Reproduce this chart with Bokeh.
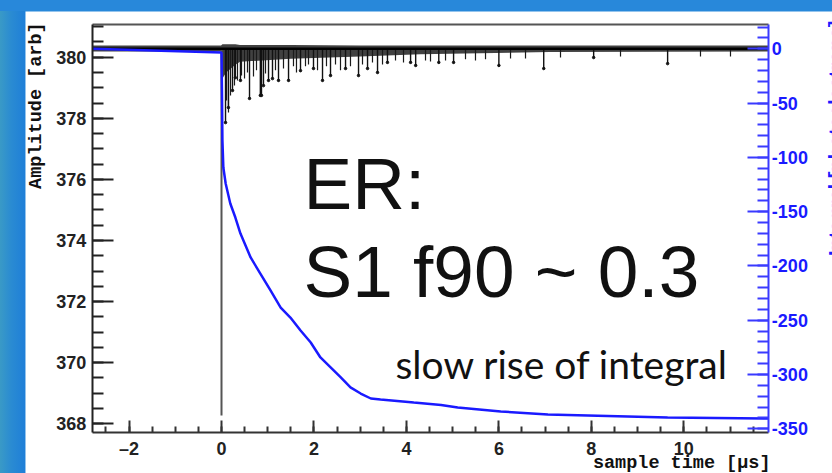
import math
from bokeh.plotting import figure
from bokeh.models import Range1d, LinearAxis, SingleIntervalTicker, FixedTicker, Label, Spacer
from bokeh.layouts import column, row
from bokeh.embed import file_html
from bokeh.resources import INLINE

# ---------------- data ----------------
x_tick_labels = {-2: "\u20132", 0: "0", 2: "2", 4: "4", 6: "6", 8: "8", 10: "10"}
right_tick_labels = {0: "0", -50: "-50", -100: "-100", -150: "-150", -200: "-200",
                     -250: "-250", -300: "-300", -350: "-350"}

# black waveform: baseline and its noise envelope
baseline_level = 380.28
env_t = [-2.797, -0.01, 0.02, 0.10, 0.30, 0.40, 1.50, 3.00, 4.30, 7.10, 11.84]
env_hi = [380.38, 380.38, 380.42, 380.42, 380.42, 380.40, 380.40, 380.38, 380.38, 380.38, 380.38]
env_lo = [380.19, 380.19, 379.30, 379.50, 379.75, 379.85, 379.95, 380.02, 380.10, 380.17, 380.19]

# large single-photoelectron spikes (time [us], minimum amplitude)
spike_t = [0.087, 0.15, 0.238, 0.30, 0.41, 0.606, 0.84, 0.865, 0.908, 1.017, 1.103, 1.233,
           1.450, 1.709, 1.99, 2.185, 2.358, 2.683, 2.964, 3.159, 3.375, 3.59, 4.09, 4.20,
           4.70, 5.02, 6.00, 6.97, 8.05, 9.65]
spike_amp = [377.86, 378.35, 378.91, 379.33, 379.24, 378.65, 378.75, 378.75, 379.07, 379.24,
             379.30, 379.24, 379.24, 379.56, 379.63, 379.24, 379.40, 379.63, 379.40, 379.63,
             379.50, 379.83, 379.83, 379.73, 379.83, 379.83, 379.73, 379.63, 379.99, 379.79]

# smaller spikes in the noisy tail
small_t = [0.108, 0.151, 0.195, 0.281, 0.346, 0.433, 0.498, 0.562, 0.692, 0.757, 0.952,
           1.168, 1.341, 1.557, 1.622, 1.817, 1.882, 2.077, 2.271, 2.466, 2.574, 2.790,
           3.050, 3.266, 3.483, 3.764, 3.937, 4.413, 4.521, 4.846, 5.278, 5.494, 5.711,
           6.252, 6.576, 7.333, 8.631, 10.361, 11.010]
small_amp = [378.58, 378.19, 378.75, 379.07, 379.24, 379.40, 379.30, 379.50, 379.37, 379.57,
             379.47, 379.57, 379.63, 379.70, 379.50, 379.70, 379.76, 379.57, 379.70, 379.76,
             379.57, 379.70, 379.76, 379.83, 379.76, 379.89, 379.83, 379.89, 379.86, 379.89,
             379.93, 379.89, 379.93, 379.96, 379.96, 379.99, 380.02, 380.02, 380.02]

# main prompt pulse
pulse_t = [0.0]
pulse_amp = [368.27]

# integral (blue) curve
int_t = [-2.797, 0.0, 0.01, 0.02, 0.04, 0.09, 0.19, 0.30, 0.41, 0.63, 0.84, 1.06, 1.28, 1.49,
         1.71, 1.93, 2.14, 2.36, 2.58, 2.79, 3.01, 3.23, 3.44, 4.16, 4.75, 5.11, 6.04, 7.06,
         9.65, 11.84]
int_val = [0.0, -3.4, -38.4, -84.5, -109.3, -124.1, -142.5, -155.4, -170.2, -192.2, -207.0,
           -222.6, -238.3, -247.5, -259.5, -270.5, -284.3, -293.5, -302.7, -311.9, -317.5,
           -322.1, -323.0, -325.8, -328.0, -330.4, -334.0, -336.8, -339.6, -340.5]

# ---------------- geometry ----------------
# plot box (data units)
T_MIN, T_MAX = -2.797, 11.84
A_MIN, A_MAX = 367.705, 381.07
I_MIN, I_MAX = -353.7, 22.38
# whole canvas (data units) -- the frame covers the full canvas so that
# annotations outside the plot box are not clipped
CX_MIN, CX_MAX = -4.2397, 13.2165
CA_MIN, CA_MAX = 366.3732, 381.4959
CI_MIN, CI_MAX = -391.18, 34.356

BLUE = "#1a1aff"
AXBLUE = "#3a3aff"
DARK = "#222222"

p = figure(width=807, height=462,
           x_range=Range1d(CX_MIN, CX_MAX), y_range=Range1d(CA_MIN, CA_MAX),
           output_backend="svg", toolbar_location=None,
           x_axis_location=None, y_axis_location=None,
           min_border_left=0, min_border_right=0, min_border_top=0, min_border_bottom=0,
           background_fill_color="white", border_fill_color="white",
           outline_line_color=None)
p.grid.visible = False
p.extra_y_ranges = {"integral": Range1d(CI_MIN, CI_MAX)}


def style_axis(ax, color, tin, tmin, lab_color, standoff):
    ax.axis_line_color = color
    ax.axis_line_width = 2
    ax.major_tick_line_color = color
    ax.minor_tick_line_color = color
    ax.major_tick_line_width = 2
    ax.minor_tick_line_width = 2
    ax.major_tick_in = tin
    ax.major_tick_out = 0
    ax.minor_tick_in = tmin
    ax.minor_tick_out = 0
    ax.major_label_text_font = "Liberation Sans"
    ax.major_label_text_font_style = "bold"
    ax.major_label_text_font_size = "18px"
    ax.major_label_text_color = lab_color
    ax.major_label_standoff = standoff


yl = LinearAxis(ticker=SingleIntervalTicker(interval=2, num_minor_ticks=4),
                fixed_location=T_MIN, bounds=(A_MIN, A_MAX))
style_axis(yl, DARK, 21, 11, DARK, 6)
p.add_layout(yl, "left")

xb = LinearAxis(ticker=SingleIntervalTicker(interval=2, num_minor_ticks=4),
                major_label_overrides=x_tick_labels,
                fixed_location=A_MIN, bounds=(T_MIN, T_MAX))
style_axis(xb, "#333333", 12, 6, DARK, 6)
p.add_layout(xb, "below")

xt = LinearAxis(ticker=FixedTicker(ticks=[]), fixed_location=A_MAX, bounds=(T_MIN, T_MAX))
xt.axis_line_color = "#555555"
xt.axis_line_width = 2
xt.major_label_text_font_size = "0px"
p.add_layout(xt, "above")

yr = LinearAxis(y_range_name="integral",
                ticker=SingleIntervalTicker(interval=50, num_minor_ticks=5),
                major_label_overrides=right_tick_labels,
                fixed_location=T_MAX, bounds=(I_MIN, I_MAX))
style_axis(yr, AXBLUE, 21, 11, BLUE, 3)
p.add_layout(yr, "right")

# waveform
p.varea(x=env_t, y1=env_lo, y2=env_hi, fill_color="#111111", fill_alpha=0.8)
p.segment(x0=small_t, y0=[baseline_level] * len(small_t), x1=small_t, y1=small_amp,
          line_color="#1a1a1a", line_width=1.2)
p.segment(x0=spike_t, y0=[baseline_level] * len(spike_t), x1=spike_t, y1=spike_amp,
          line_color="#111111", line_width=1.4)
p.scatter(x=spike_t, y=spike_amp, size=2.5, color="#111111")
p.segment(x0=pulse_t, y0=[baseline_level], x1=pulse_t, y1=pulse_amp,
          line_color="#555555", line_width=2)
p.line(x=env_t, y=[baseline_level] * len(env_t), line_color="#000000", line_width=2.5)

# integral
p.line(x=int_t, y=int_val, y_range_name="integral", line_color=BLUE, line_width=2.5)

# annotations
big = dict(text_font="Liberation Sans", text_font_size="73px", text_color="#111111",
           text_baseline="alphabetic", text_align="left")
p.add_layout(Label(x=1.774, y=375.856, text="ER:", **big))
p.add_layout(Label(x=1.774, y=372.985, text="S1 f90 ~ 0.3", **big))
p.add_layout(Label(x=3.763, y=369.97, text="slow rise of integral", text_font="Lato",
                   text_font_size="39px", text_color="#111111",
                   text_baseline="alphabetic", text_align="left"))

# axis titles
p.add_layout(Label(x=-4.002, y=381.14, text="Amplitude [arb]", angle=math.pi / 2,
                   text_font="Liberation Mono", text_font_style="bold",
                   text_font_size="18.5px", text_color="#111111",
                   text_align="right", text_baseline="middle"))
p.add_layout(Label(x=11.876, y=366.70, text="sample time [\u00b5s]",
                   text_font="Liberation Mono", text_font_style="bold",
                   text_font_size="18.5px", text_color="#111111",
                   text_align="right", text_baseline="middle"))
p.add_layout(Label(x=13.303, y=381.20, text="Integral [photoelectrons]", angle=math.pi / 2,
                   text_font="Liberation Sans", text_font_style="bold",
                   text_font_size="20px", text_color=BLUE,
                   text_align="right", text_baseline="alphabetic"))

top_bar = Spacer(width=832, height=11, styles={"background": "#2888da"})
left_bar = Spacer(width=25, height=462,
                  styles={"background": "linear-gradient(90deg, #3a9ac6 0%, #2a8bd2 45%, #1f7fd8 100%)"})
root = column(top_bar, row(left_bar, p, spacing=0), spacing=0,
              styles={"background": "#2888da"})

open("out.html", "w").write(file_html(root, INLINE))
